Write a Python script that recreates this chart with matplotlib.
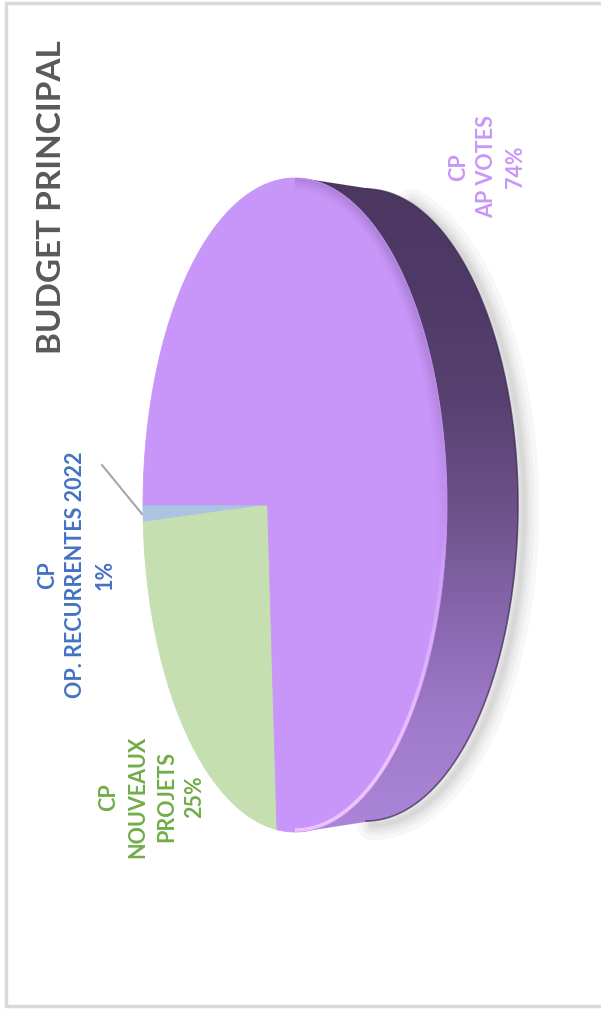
import numpy as np
import matplotlib.pyplot as plt
from matplotlib.patches import Polygon, Rectangle
from matplotlib.colors import LinearSegmentedColormap, to_rgb
from matplotlib.collections import LineCollection

plt.rcParams['font.family'] = ['Lato', 'DejaVu Sans']

# slices, in drawing order (start on the left, going clockwise on screen)
labels = ["CP\nOP. RECURRENTES 2022", "CP\nNOUVEAUX\nPROJETS", "CP\nAP VOTES"]
shares = [1, 25, 74]
colors = ["#adc3e2", "#c5dfb0", "#c896f8"]
label_colors = ["#4472c4", "#70ad47", "#c896f8"]
title = "BUDGET PRINCIPAL"

# disc layout in pixels (y pointing down)
cx, cy = 295, 505
rx, ry = 152, 327
depth = 71
ry_back = 316     # far face a little smaller
persp = 0.18      # centre of the disc pushed toward the far edge
start = 180


def project(u, v):
    w = 1 - persp * u
    x = cx + rx * (u - persp) / w
    y = cy + ry * v * np.sqrt(1 - persp**2) / w
    return x, y


def convex_hull(pts):
    pts = sorted(map(tuple, pts))

    def cross(o, a, b):
        return (a[0] - o[0]) * (b[1] - o[1]) - (a[1] - o[1]) * (b[0] - o[0])

    lower, upper = [], []
    for p in pts:
        while len(lower) >= 2 and cross(lower[-2], lower[-1], p) <= 0:
            lower.pop()
        lower.append(p)
    for p in reversed(pts):
        while len(upper) >= 2 and cross(upper[-2], upper[-1], p) <= 0:
            upper.pop()
        upper.append(p)
    return np.array(lower[:-1] + upper[:-1])


fig = plt.figure(figsize=(6.01, 10.10), dpi=100)
ax = fig.add_axes([0, 0, 1, 1])

# frame
ax.add_patch(Rectangle((6, 3), 620, 1003, fc='white', ec='#d9d9d9', lw=2.5, zorder=0))

# side of the cylinder
phi = np.linspace(-np.pi / 2, np.pi / 2, 300)
front = np.column_stack([cx + rx * np.cos(phi), cy + ry * np.sin(phi)])
back = np.column_stack([cx + rx * np.cos(phi) + depth, cy + ry_back * np.sin(phi)])
side_xy = convex_hull(np.vstack([front, back]))

# soft shadow along the outer edge
sel = phi > np.radians(-75)
for lw in [22, 15, 10, 6, 3]:
    ax.plot(back[sel, 0] + 6, back[sel, 1] + 4, color='black', lw=lw, alpha=0.03,
            solid_capstyle='round', zorder=1)

side_cmap = LinearSegmentedColormap.from_list(
    "side", ["#4b3760", "#4f3a67", "#57406f", "#6c5088", "#8766ad", "#a07bcb", "#ab86d8"])
grad = np.linspace(0, 1, 256).reshape(-1, 1)
im = ax.imshow(grad, cmap=side_cmap, extent=(cx - 5, cx + rx + depth + 5, cy + ry + 2, cy - ry - 2),
               aspect='auto', zorder=2)
side = Polygon(side_xy, closed=True, fc='none', ec='none', zorder=2)
ax.add_patch(side)
im.set_clip_path(side)
ax.plot(back[:, 0], back[:, 1], color='#3a2a4e', lw=1.2, alpha=0.7, zorder=2)

# top face
bounds = start - 360 * np.concatenate([[0], np.cumsum(shares)]) / sum(shares)
for a0, a1, col in zip(bounds[:-1], bounds[1:], colors):
    t = np.radians(np.linspace(a0, a1, max(4, int(abs(a1 - a0) * 2))))
    u = np.concatenate([[0], np.cos(t), [0]])
    v = np.concatenate([[0], np.sin(t), [0]])
    x, y = project(u, v)
    ax.add_patch(Polygon(np.column_stack([x, y]), closed=True, fc=col, ec=col, lw=0.6, zorder=3))

# rim shading: dark bevel on the upper part, light edge on the lower part
dark = np.array(to_rgb('#3e2c55'))
pink = np.array(to_rgb('#f6ccff'))
mid = (phi[:-1] + phi[1:]) / 2


def rim_segments(inset):
    ex = cx + (rx - inset) * np.cos(phi)
    ey = cy + (ry - inset) * np.sin(phi)
    pts = np.column_stack([ex, ey]).reshape(-1, 1, 2)
    return np.concatenate([pts[:-1], pts[1:]], axis=1)


fade = np.clip(-np.sin(mid) * 1.4 + 0.3, 0, 1)
for inset in np.arange(1, 13, 1.0):
    a = 0.10 * (1 - inset / 13) ** 1.5
    rgba = np.column_stack([np.tile(dark, (len(mid), 1)), a * fade])
    ax.add_collection(LineCollection(rim_segments(inset), colors=rgba, lw=1.6, zorder=4))

alpha = 0.9 * np.clip(np.sin(mid) * 1.3 - 0.05, 0, 1)
rgba = np.column_stack([np.tile(pink, (len(mid), 1)), alpha])
ax.add_collection(LineCollection(rim_segments(2), colors=rgba, lw=2.5, zorder=4))

# labels
ax.text(52, 197, title, rotation=90, ha='center', va='center', fontsize=24,
        fontweight='bold', color='#595959')
label_pos = [(76, 575), (152, 797), (487, 167)]
pcts = [f"{s}%" for s in shares]
for lab, pct, (lx, ly), c in zip(labels, pcts, label_pos, label_colors):
    ax.text(lx, ly, lab + "\n" + pct, rotation=90, ha='center', va='center',
            multialignment='center', fontsize=15.5, fontweight='bold', color=c,
            linespacing=1.45)

# leader line for the small slice
ax.plot([102, 142], [465, 514], color='#a6a6a6', lw=1.5, zorder=5)

ax.set_xlim(0, 601)
ax.set_ylim(1010, 0)
ax.axis('off')
fig.savefig("out.png", dpi=100)
